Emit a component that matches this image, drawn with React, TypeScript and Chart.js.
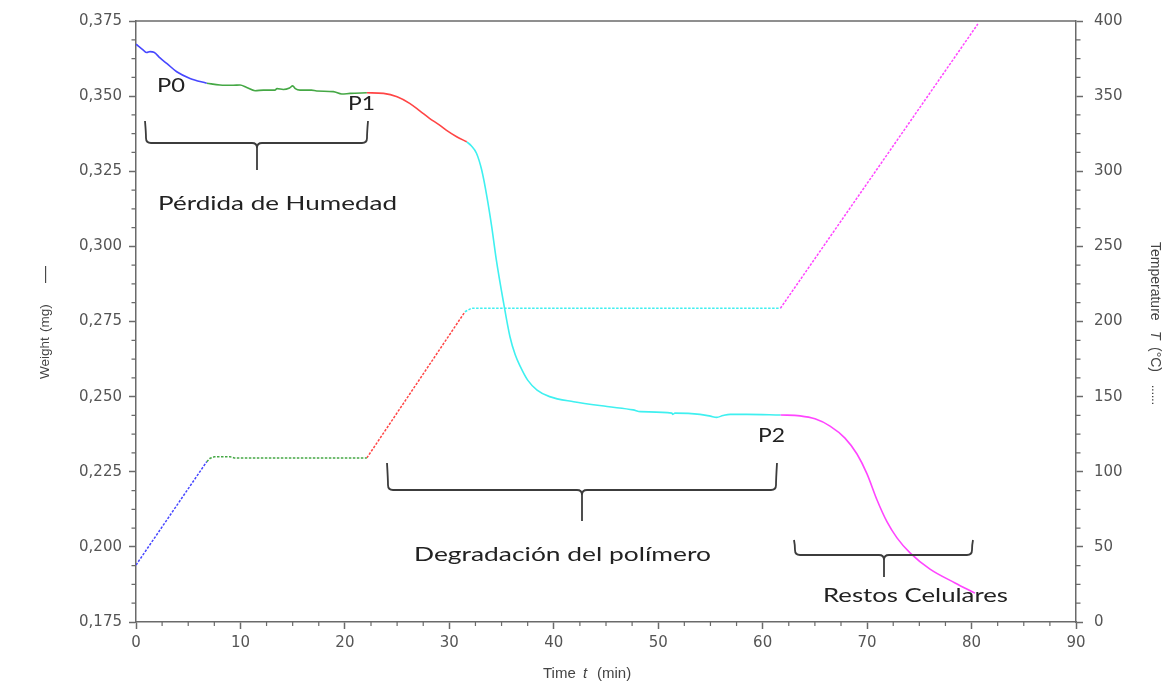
import { useEffect, useRef } from "react";
import { Chart, registerables } from "chart.js";

Chart.register(...registerables);

// ---- Weight (mg) against time (min), one array pair per stage ----
const blueTime = [0, 0.7, 1.02, 1.34, 1.72, 2.3, 2.94, 3.9, 5.17, 6.77];
const blueWeight = [0.3673, 0.3653, 0.3645, 0.3648, 0.3646, 0.3627, 0.3609, 0.3581, 0.3559, 0.3543];

const greenTime = [6.77, 8.04, 9.3, 9.96, 10.6, 11.4, 12.2, 13.3, 13.5, 14.1, 14.7, 15.0, 15.25, 15.7, 16.8, 17.3, 18.9, 19.7, 20.5, 22.1];
const greenWeight = [0.3543, 0.3537, 0.3536, 0.3537, 0.3529, 0.3518, 0.352, 0.352, 0.3525, 0.3522, 0.3527, 0.3534, 0.3525, 0.352, 0.352, 0.3517, 0.3515, 0.3507, 0.3509, 0.3511];

const redTime = [22.1, 23.7, 25.0, 26.2, 27.2, 28.1, 29.0, 29.7, 30.7, 31.66];
const redWeight = [0.3511, 0.3509, 0.3498, 0.3476, 0.345, 0.3426, 0.3405, 0.3387, 0.3365, 0.3348];

const cyanTime = [31.66, 32.1, 32.6, 33.1, 33.6, 34.06, 34.5, 35.2, 35.8, 36.3, 36.8, 37.5, 38.4, 39.6, 41.9, 45.1, 47.6, 48.3, 51.3, 51.4, 51.6, 54.0, 55.0, 55.6, 56.2, 56.9, 58.5, 61.7];
const cyanWeight = [0.3348, 0.3335, 0.331, 0.3254, 0.3165, 0.3065, 0.2955, 0.2811, 0.27, 0.264, 0.26, 0.2555, 0.2522, 0.25, 0.2483, 0.2467, 0.2456, 0.245, 0.2445, 0.2441, 0.2445, 0.2441, 0.2435, 0.2431, 0.2437, 0.2441, 0.2441, 0.2439];

const magentaTime = [61.7, 63.58, 65.01, 66.45, 67.88, 69.03, 69.99, 70.95, 71.91, 72.86, 74.11, 76.02, 78.42, 80.33];
const magentaWeight = [0.2439, 0.2436, 0.2426, 0.2402, 0.2362, 0.2309, 0.2243, 0.2156, 0.2083, 0.203, 0.198, 0.1926, 0.188, 0.1846];

// ---- Temperature (°C) against time (min) ----
const blueTempTime = [0, 6.77];
const blueTemp = [37.9, 106.7];
const greenTempTime = [6.77, 7.1, 7.5, 9.0, 9.4, 22.1];
const greenTemp = [106.7, 109.0, 110.0, 110.0, 109.2, 109.2];
const redTempTime = [22.1, 31.5];
const redTemp = [109.2, 206.5];
const cyanTempTime = [31.5, 32.1, 61.7];
const cyanTemp = [206.5, 208.8, 208.8];
const magentaTempTime = [61.7, 80.6];
const magentaTemp = [208.8, 398.0];

// ---- Axis ranges and tick steps ----
const timeRange = [0, 90];
const timeStep = 10;
const weightRange = [0.175, 0.375];
const weightStep = 0.025;
const tempRange = [0, 400];
const tempStep = 50;

const BLUE = "#4747ff";
const GREEN = "#45a845";
const RED = "#ff4545";
const CYAN = "#3ff0f0";
const MAGENTA = "#ff45ff";
const AXIS = "#6a6a6a";

const pts = (xs: number[], ys: number[]) => xs.map((x, i) => ({ x, y: ys[i] }));

const weightLine = (xs: number[], ys: number[], color: string) => ({
  data: pts(xs, ys),
  yAxisID: "yW",
  borderColor: color,
  borderWidth: 1.6,
  pointRadius: 0,
  cubicInterpolationMode: "monotone" as const,
  fill: false,
});

const tempLine = (xs: number[], ys: number[], color: string) => ({
  data: pts(xs, ys),
  yAxisID: "yT",
  borderColor: color,
  borderWidth: 1.5,
  borderDash: [2.5, 1.5],
  pointRadius: 0,
  tension: 0,
  fill: false,
});

function drawBrace(
  ctx: CanvasRenderingContext2D,
  x1: number,
  x2: number,
  yTop: number,
  yMid: number,
  cx: number,
  yTip: number
) {
  const r = 5;
  ctx.beginPath();
  ctx.moveTo(x1, yTop);
  ctx.quadraticCurveTo(x1 + 1, yMid - r * 2, x1 + 1, yMid - r);
  ctx.quadraticCurveTo(x1 + 1, yMid, x1 + r + 1, yMid);
  ctx.lineTo(cx - r, yMid);
  ctx.quadraticCurveTo(cx, yMid, cx, yMid + r);
  ctx.lineTo(cx, yTip);
  ctx.moveTo(x2, yTop);
  ctx.quadraticCurveTo(x2 - 1, yMid - r * 2, x2 - 1, yMid - r);
  ctx.quadraticCurveTo(x2 - 1, yMid, x2 - r - 1, yMid);
  ctx.lineTo(cx + r, yMid);
  ctx.quadraticCurveTo(cx, yMid, cx, yMid + r);
  ctx.stroke();
}

function fitText(
  ctx: CanvasRenderingContext2D,
  text: string,
  left: number,
  baseline: number,
  width: number,
  font: string
) {
  ctx.font = font;
  const w = ctx.measureText(text).width;
  ctx.save();
  ctx.translate(left, baseline);
  ctx.scale(width / w, 1);
  ctx.textAlign = "left";
  ctx.textBaseline = "alphabetic";
  ctx.fillText(text, 0, 0);
  ctx.restore();
}

const decorations = {
  id: "decorations",
  afterDraw(chart: any) {
    const { ctx, chartArea, scales } = chart;
    const { left, right, top, bottom } = chartArea;
    ctx.save();

    // top frame line
    ctx.strokeStyle = AXIS;
    ctx.lineWidth = 1.5;
    ctx.beginPath();
    ctx.moveTo(left, top);
    ctx.lineTo(right, top);
    ctx.stroke();

    // minor ticks
    ctx.lineWidth = 1.2;
    ctx.beginPath();
    for (let i = 0; i <= 36; i++) {
      if (i % 4 === 0) continue;
      const px = scales.x.getPixelForValue(timeRange[0] + i * (timeStep / 4));
      ctx.moveTo(px, bottom);
      ctx.lineTo(px, bottom + 4);
    }
    for (let i = 0; i <= 32; i++) {
      if (i % 4 === 0) continue;
      const py = scales.yW.getPixelForValue(weightRange[0] + i * (weightStep / 4));
      ctx.moveTo(left - 4.5, py);
      ctx.lineTo(left, py);
    }
    for (let i = 0; i <= 32; i++) {
      if (i % 4 === 0) continue;
      const py = scales.yT.getPixelForValue(tempRange[0] + i * (tempStep / 4));
      ctx.moveTo(right, py);
      ctx.lineTo(right + 4.5, py);
    }
    ctx.stroke();

    // axis titles
    ctx.fillStyle = "#444";
    ctx.textBaseline = "alphabetic";
    ctx.textAlign = "left";
    ctx.font = "15px 'Liberation Sans'";
    ctx.fillText("Time", 543, 678);
    ctx.font = "italic 15px 'Liberation Sans'";
    ctx.fillText("t", 583, 678);
    ctx.font = "15px 'Liberation Sans'";
    ctx.fillText("(min)", 597, 678);

    // left title, reading upwards
    ctx.save();
    ctx.translate(45, 0);
    ctx.rotate(-Math.PI / 2);
    ctx.textBaseline = "middle";
    ctx.font = "13.5px 'Liberation Sans'";
    ctx.fillText("Weight", -379, 0);
    ctx.fillText("(mg)", -332, 0);
    ctx.font = "17px 'Liberation Sans'";
    ctx.fillText("\u2014", -283, 0);
    ctx.restore();

    // right title, reading downwards
    ctx.save();
    ctx.translate(1155, 0);
    ctx.rotate(Math.PI / 2);
    ctx.textBaseline = "middle";
    ctx.font = "14px 'Liberation Sans'";
    ctx.fillText("Temperature", 242, 0);
    ctx.font = "italic 14px 'Liberation Sans'";
    ctx.fillText("T", 331, 0);
    ctx.font = "14px 'Liberation Sans'";
    ctx.fillText("(\u00b0C)", 347, 0);
    ctx.font = "12px 'Liberation Sans'";
    ctx.fillText("......", 385, 0);
    ctx.restore();

    // braces
    ctx.strokeStyle = "#3c3c3c";
    ctx.lineWidth = 1.8;
    drawBrace(ctx, 145, 368, 121, 143, 257, 170);
    drawBrace(ctx, 387, 777, 463, 490, 582, 521);
    drawBrace(ctx, 794, 973, 540, 555, 884, 577);

    // stage labels
    ctx.fillStyle = "#222";
    const f = "19px Lato";
    fitText(ctx, "P0", 157, 92, 28, f);
    fitText(ctx, "P1", 348, 110, 27, f);
    fitText(ctx, "P2", 758, 442, 27, f);
    fitText(ctx, "Pérdida de Humedad", 158, 210, 239, f);
    fitText(ctx, "Degradación del polímero", 414, 561, 297, f);
    fitText(ctx, "Restos Celulares", 823, 602, 185, f);

    ctx.restore();
  },
};

export default function App() {
  const ref = useRef<HTMLCanvasElement | null>(null);

  useEffect(() => {
    if (!ref.current) return;
    const tickFont = { family: "'DejaVu Sans'", size: 15 };
    const grid = {
      drawOnChartArea: false,
      drawTicks: true,
      tickLength: 7,
      color: AXIS,
      tickColor: AXIS,
      tickWidth: 1.5,
    };
    const border = { display: true, color: AXIS, width: 1.5 };

    const chart = new Chart(ref.current, {
      type: "line",
      data: {
        datasets: [
          tempLine(blueTempTime, blueTemp, BLUE),
          tempLine(greenTempTime, greenTemp, GREEN),
          tempLine(redTempTime, redTemp, RED),
          tempLine(cyanTempTime, cyanTemp, CYAN),
          tempLine(magentaTempTime, magentaTemp, MAGENTA),
          weightLine(blueTime, blueWeight, BLUE),
          weightLine(greenTime, greenWeight, GREEN),
          weightLine(redTime, redWeight, RED),
          weightLine(cyanTime, cyanWeight, CYAN),
          weightLine(magentaTime, magentaWeight, MAGENTA),
        ] as any,
      },
      options: {
        responsive: false,
        animation: false,
        devicePixelRatio: 1,
        layout: { padding: { top: 21, left: 0, right: 0, bottom: 0 } },
        plugins: { legend: { display: false }, tooltip: { enabled: false } },
        scales: {
          x: {
            type: "linear",
            min: timeRange[0],
            max: timeRange[1],
            afterFit: (s: any) => {
              s.height = 63;
            },
            ticks: { stepSize: timeStep, color: "#555", font: tickFont, padding: 5, maxRotation: 0 },
            grid,
            border,
          },
          yW: {
            type: "linear",
            position: "left",
            min: weightRange[0],
            max: weightRange[1],
            afterFit: (s: any) => {
              s.width = 136;
            },
            ticks: {
              stepSize: weightStep,
              color: "#555",
              font: tickFont,
              padding: 7,
              callback: (v: any) => Number(v).toFixed(3).replace(".", ","),
            },
            grid,
            border,
          },
          yT: {
            type: "linear",
            position: "right",
            min: tempRange[0],
            max: tempRange[1],
            afterFit: (s: any) => {
              s.width = 100;
            },
            ticks: { stepSize: tempStep, color: "#555", font: tickFont, padding: 11 },
            grid,
            border,
          },
        } as any,
      },
      plugins: [decorations],
    });
    return () => chart.destroy();
  }, []);

  return (
    <div style={{ position: "absolute", left: 0, top: 0, width: 1176, height: 685, background: "#fff" }}>
      <canvas ref={ref} width={1176} height={685} />
    </div>
  );
}
